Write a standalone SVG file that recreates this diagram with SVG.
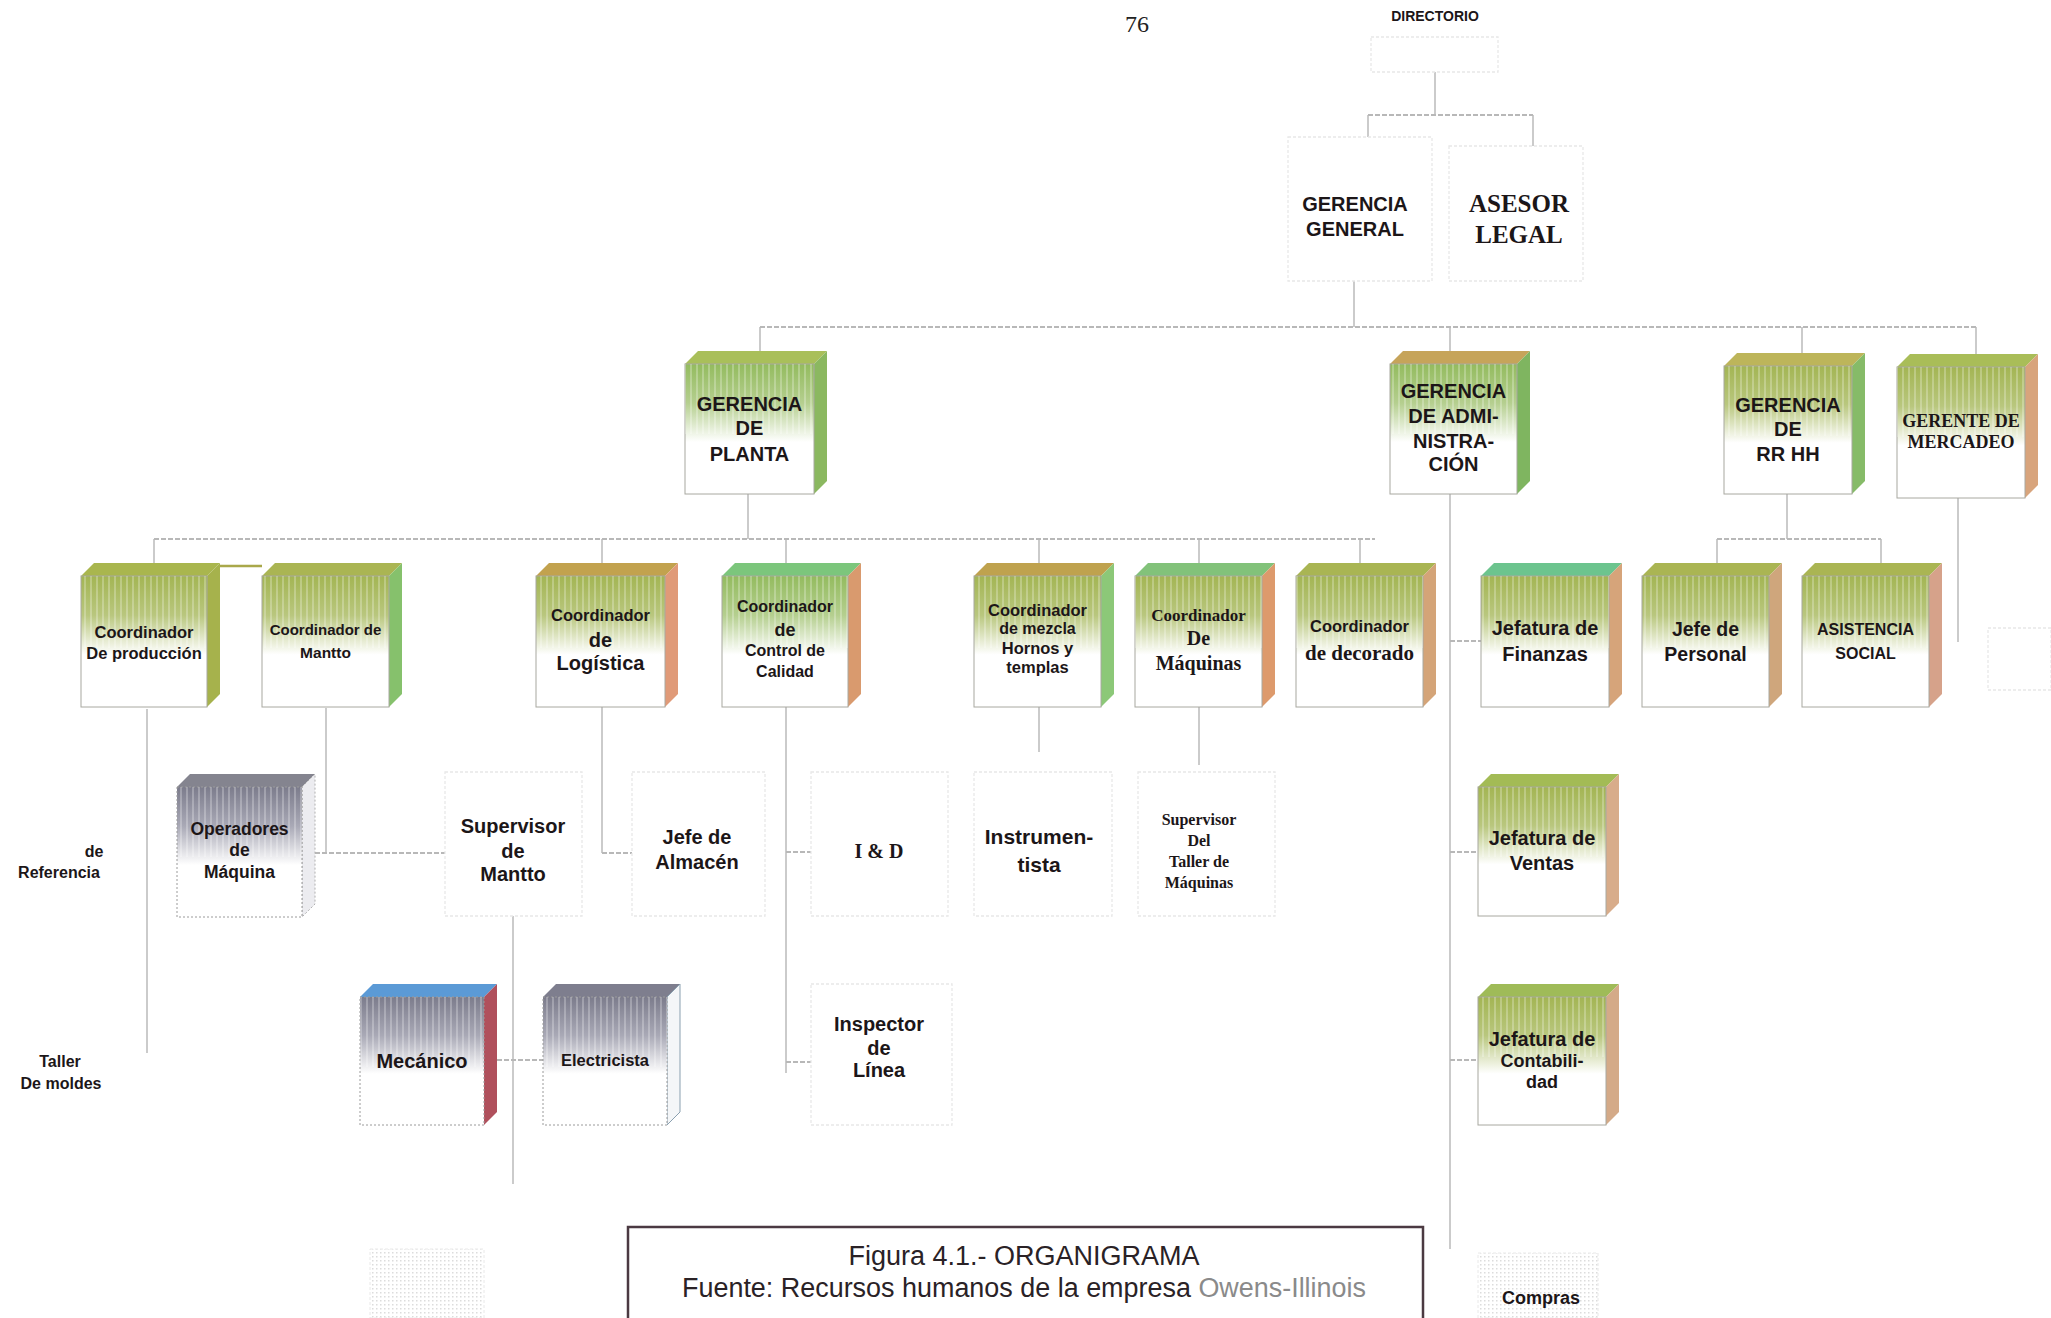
<svg xmlns="http://www.w3.org/2000/svg" width="2051" height="1318" viewBox="0 0 2051 1318">
<style>
.sb{font-family:"Liberation Sans",Arial,sans-serif;font-weight:bold;fill:#1c1618;text-anchor:middle}
.rb{font-family:"Liberation Serif","Times New Roman",serif;font-weight:bold;fill:#1c1618;text-anchor:middle}
.cap{font-family:"Liberation Sans",Arial,sans-serif;fill:#2a2226;text-anchor:middle}
.front{stroke:#a8a8a0;stroke-width:1}
.ghost{fill:none;stroke:#e8e8e8;stroke-width:1.3;stroke-dasharray:3 2}
.con{fill:none;stroke:#cbcbcb;stroke-width:2}
.conh{fill:none;stroke:#b8b8b8;stroke-width:2;stroke-dasharray:5 2}
.streak{fill:url(#streaks)}
</style>
<defs>
<pattern id="streaks" width="6" height="12" patternUnits="userSpaceOnUse"><rect x="0" y="0" width="2" height="12" fill="#ffffff" fill-opacity="0.25"/></pattern>
<pattern id="dots" width="4" height="4" patternUnits="userSpaceOnUse"><rect x="0" y="0" width="1.5" height="1.5" fill="#dcdcdc"/></pattern>
<linearGradient id="gOlive" x1="0" y1="0" x2="0" y2="1"><stop offset="0" stop-color="#a3b553"/><stop offset="0.3" stop-color="#b9c77e"/><stop offset="0.6" stop-color="#ffffff"/><stop offset="1" stop-color="#ffffff"/></linearGradient>
<linearGradient id="gGreen" x1="0" y1="0" x2="0" y2="1"><stop offset="0" stop-color="#93bb5e"/><stop offset="0.3" stop-color="#b5cf8f"/><stop offset="0.6" stop-color="#ffffff"/><stop offset="1" stop-color="#ffffff"/></linearGradient>
<linearGradient id="gGrey" x1="0" y1="0" x2="0" y2="1"><stop offset="0" stop-color="#7c7c8c"/><stop offset="0.3" stop-color="#a9a9b6"/><stop offset="0.6" stop-color="#ffffff"/><stop offset="1" stop-color="#ffffff"/></linearGradient>
</defs>
<rect width="2051" height="1318" fill="#ffffff"/>

<text x="1137" y="32" font-family="'Liberation Serif',serif" font-size="24" text-anchor="middle" fill="#222">76</text>

<g id="connectors">
<path class="con" d="M1435,72 V115 M1368,115 V137 M1533,115 V146"/>
<path class="conh" d="M1368,115 H1533"/>
<path class="con" d="M1354,281 V327 M760,327 V351 M1450,327 V351 M1802,327 V353 M1976,327 V354"/>
<path class="conh" d="M760,327 H1976"/>
<path class="con" d="M748,494 V539 M154,539 V565 M602,539 V563 M786,539 V563 M1039,539 V563 M1199,539 V563 M1360,539 V563"/>
<path class="conh" d="M154,539 H1375"/>
<path d="M220,566 H262" fill="none" stroke="#a9a84a" stroke-width="2.5"/>
<path class="con" d="M1787,494 V539 M1717,539 V563 M1881,539 V563"/>
<path class="conh" d="M1717,539 H1881"/>
<path class="con" d="M1958,498 V642"/>
<path class="con" d="M1450,494 V1249"/>
<path class="conh" d="M1450,641 H1481 M1450,852 H1478 M1450,1060 H1478"/>
<path class="con" d="M147,709 V1053"/>
<path class="con" d="M326,708 V853"/>
<path class="conh" d="M315,853 H445"/>
<path class="con" d="M602,706 V853"/>
<path class="conh" d="M602,853 H632"/>
<path class="con" d="M786,706 V1073"/>
<path class="conh" d="M786,852 H811 M786,1062 H811"/>
<path class="con" d="M1039,706 V752 M1199,706 V765"/>
<path class="con" d="M513,916 V1184"/>
<path class="conh" d="M497,1060 H543"/>
</g>

<g id="n-directorio"><rect class="ghost" x="1371" y="37" width="127" height="35"/><text class="sb" x="1435" y="21" font-size="14">DIRECTORIO</text></g>
<g id="n-gerencia-general"><rect class="ghost" x="1288" y="137" width="144" height="144"/><text class="sb" x="1355" y="211" font-size="20">GERENCIA</text><text class="sb" x="1355" y="236" font-size="20">GENERAL</text></g>
<g id="n-asesor-legal"><rect class="ghost" x="1449" y="146" width="134" height="135"/><text class="rb" x="1519" y="212" font-size="25">ASESOR</text><text class="rb" x="1519" y="243" font-size="25">LEGAL</text></g>

<g id="n-planta"><path d="M685,364 L698,351 H827 L814,364 Z" fill="#a9bf5a"/><path d="M814,364 L827,351 V481 L814,494 Z" fill="#8bb860"/><rect class="front" x="685" y="364" width="129" height="130" fill="url(#gGreen)"/><rect class="streak" x="685" y="364" width="129" height="70"/><text class="sb" x="749.5" y="411" font-size="20">GERENCIA</text><text class="sb" x="749.5" y="435" font-size="20">DE</text><text class="sb" x="749.5" y="461" font-size="20">PLANTA</text></g>
<g id="n-admin"><path d="M1390,364 L1403,351 H1530 L1517,364 Z" fill="#c6a45a"/><path d="M1517,364 L1530,351 V481 L1517,494 Z" fill="#7fb560"/><rect class="front" x="1390" y="364" width="127" height="130" fill="url(#gGreen)"/><rect class="streak" x="1390" y="364" width="127" height="70"/><text class="sb" x="1453.5" y="398" font-size="20">GERENCIA</text><text class="sb" x="1453.5" y="423" font-size="20">DE ADMI-</text><text class="sb" x="1453.5" y="448" font-size="20">NISTRA-</text><text class="sb" x="1453.5" y="471" font-size="20">CIÓN</text></g>
<g id="n-rrhh"><path d="M1724,366 L1737,353 H1865 L1852,366 Z" fill="#bdb55a"/><path d="M1852,366 L1865,353 V481 L1852,494 Z" fill="#86bb68"/><rect class="front" x="1724" y="366" width="128" height="128" fill="url(#gOlive)"/><rect class="streak" x="1724" y="366" width="128" height="70"/><text class="sb" x="1788" y="412" font-size="20">GERENCIA</text><text class="sb" x="1788" y="436" font-size="20">DE</text><text class="sb" x="1788" y="461" font-size="20">RR HH</text></g>
<g id="n-mercadeo"><path d="M1897,367 L1910,354 H2038 L2025,367 Z" fill="#a9bd58"/><path d="M2025,367 L2038,354 V485 L2025,498 Z" fill="#d8a47c"/><rect class="front" x="1897" y="367" width="128" height="131" fill="url(#gOlive)"/><rect class="streak" x="1897" y="367" width="128" height="70"/><text class="rb" x="1961" y="427" font-size="18">GERENTE DE</text><text class="rb" x="1961" y="448" font-size="18">MERCADEO</text></g>

<g id="n-coord-produccion"><path d="M81,576 L94,563 H220 L207,576 Z" fill="#a9b64e"/><path d="M207,576 L220,563 V694 L207,707 Z" fill="#a6b24c"/><rect class="front" x="81" y="576" width="126" height="131" fill="url(#gOlive)"/><rect class="streak" x="81" y="576" width="126" height="72"/><text class="sb" x="144" y="638" font-size="16.5">Coordinador</text><text class="sb" x="144" y="659" font-size="16.5">De producción</text></g>
<g id="n-coord-mantto"><path d="M262,576 L275,563 H402 L389,576 Z" fill="#aab553"/><path d="M389,576 L402,563 V694 L389,707 Z" fill="#86c16c"/><rect class="front" x="262" y="576" width="127" height="131" fill="url(#gOlive)"/><rect class="streak" x="262" y="576" width="127" height="72"/><text class="sb" x="325.5" y="635" font-size="15">Coordinador de</text><text class="sb" x="325.5" y="658" font-size="15.5">Mantto</text></g>
<g id="n-coord-logistica"><path d="M536,576 L549,563 H678 L665,576 Z" fill="#c2a24e"/><path d="M665,576 L678,563 V694 L665,707 Z" fill="#e09a78"/><rect class="front" x="536" y="576" width="129" height="131" fill="url(#gOlive)"/><rect class="streak" x="536" y="576" width="129" height="72"/><text class="sb" x="600.5" y="621" font-size="16.5">Coordinador</text><text class="sb" x="600.5" y="647" font-size="20">de</text><text class="sb" x="600.5" y="670" font-size="20">Logística</text></g>
<g id="n-coord-calidad"><path d="M722,576 L735,563 H861 L848,576 Z" fill="#7cc67c"/><path d="M848,576 L861,563 V694 L848,707 Z" fill="#d99a6e"/><rect class="front" x="722" y="576" width="126" height="131" fill="url(#gGreen)"/><rect class="streak" x="722" y="576" width="126" height="72"/><text class="sb" x="785" y="612" font-size="16">Coordinador</text><text class="sb" x="785" y="636" font-size="18">de</text><text class="sb" x="785" y="656" font-size="16">Control de</text><text class="sb" x="785" y="677" font-size="16">Calidad</text></g>
<g id="n-coord-mezcla"><path d="M974,576 L987,563 H1114 L1101,576 Z" fill="#bfa24e"/><path d="M1101,576 L1114,563 V694 L1101,707 Z" fill="#8cc878"/><rect class="front" x="974" y="576" width="127" height="131" fill="url(#gOlive)"/><rect class="streak" x="974" y="576" width="127" height="72"/><text class="sb" x="1037.5" y="616" font-size="16.5">Coordinador</text><text class="sb" x="1037.5" y="634" font-size="16">de  mezcla</text><text class="sb" x="1037.5" y="654" font-size="16.5">Hornos y</text><text class="sb" x="1037.5" y="673" font-size="16.5">templas</text></g>
<g id="n-coord-maquinas"><path d="M1135,576 L1148,563 H1275 L1262,576 Z" fill="#82c27a"/><path d="M1262,576 L1275,563 V694 L1262,707 Z" fill="#dd9a6c"/><rect class="front" x="1135" y="576" width="127" height="131" fill="url(#gOlive)"/><rect class="streak" x="1135" y="576" width="127" height="72"/><text class="rb" x="1198.5" y="621" font-size="17">Coordinador</text><text class="rb" x="1198.5" y="645" font-size="20">De</text><text class="rb" x="1198.5" y="670" font-size="20">Máquinas</text></g>
<g id="n-coord-decorado"><path d="M1296,576 L1309,563 H1436 L1423,576 Z" fill="#a9b553"/><path d="M1423,576 L1436,563 V694 L1423,707 Z" fill="#d4a478"/><rect class="front" x="1296" y="576" width="127" height="131" fill="url(#gOlive)"/><rect class="streak" x="1296" y="576" width="127" height="72"/><text class="sb" x="1359.5" y="632" font-size="16.5">Coordinador</text><text class="rb" x="1359.5" y="660" font-size="21">de decorado</text></g>
<g id="n-finanzas"><path d="M1481,576 L1494,563 H1622 L1609,576 Z" fill="#6cc48e"/><path d="M1609,576 L1622,563 V694 L1609,707 Z" fill="#d6a47a"/><rect class="front" x="1481" y="576" width="128" height="131" fill="url(#gOlive)"/><rect class="streak" x="1481" y="576" width="128" height="72"/><text class="sb" x="1545" y="635" font-size="20">Jefatura de</text><text class="sb" x="1545" y="661" font-size="20">Finanzas</text></g>
<g id="n-personal"><path d="M1642,576 L1655,563 H1782 L1769,576 Z" fill="#aab553"/><path d="M1769,576 L1782,563 V694 L1769,707 Z" fill="#cfa67c"/><rect class="front" x="1642" y="576" width="127" height="131" fill="url(#gOlive)"/><rect class="streak" x="1642" y="576" width="127" height="72"/><text class="sb" x="1705.5" y="636" font-size="19.5">Jefe de</text><text class="sb" x="1705.5" y="661" font-size="19.5">Personal</text></g>
<g id="n-asistencia"><path d="M1802,576 L1815,563 H1942 L1929,576 Z" fill="#aab553"/><path d="M1929,576 L1942,563 V694 L1929,707 Z" fill="#d6a28a"/><rect class="front" x="1802" y="576" width="127" height="131" fill="url(#gOlive)"/><rect class="streak" x="1802" y="576" width="127" height="72"/><text class="sb" x="1865.5" y="635" font-size="16">ASISTENCIA</text><text class="sb" x="1865.5" y="659" font-size="16">SOCIAL</text></g>

<g id="n-operadores"><path d="M177,787 L190,774 H315 L302,787 Z" fill="#84848f"/><path d="M302,787 L315,774 V904 L302,917 Z" fill="#ececf0" stroke="#b0b0b0" stroke-dasharray="2 2"/><rect x="177" y="787" width="125" height="130" fill="url(#gGrey)" stroke="#9a9a9a" stroke-dasharray="2 2"/><rect class="streak" x="177" y="787" width="125" height="70"/><text class="sb" x="239.5" y="835" font-size="17.5">Operadores</text><text class="sb" x="239.5" y="856" font-size="17.5">de</text><text class="sb" x="239.5" y="878" font-size="17.5">Máquina</text></g>
<g id="n-sup-mantto"><rect class="ghost" x="445" y="772" width="137" height="144"/><text class="sb" x="513" y="833" font-size="20">Supervisor</text><text class="sb" x="513" y="858" font-size="20">de</text><text class="sb" x="513" y="881" font-size="20">Mantto</text></g>
<g id="n-almacen"><rect class="ghost" x="632" y="772" width="133" height="144"/><text class="sb" x="697" y="844" font-size="20">Jefe de</text><text class="sb" x="697" y="869" font-size="20">Almacén</text></g>
<g id="n-id"><rect class="ghost" x="811" y="772" width="137" height="144"/><text class="rb" x="879" y="858" font-size="20">I &amp; D</text></g>
<g id="n-instrumentista"><rect class="ghost" x="974" y="772" width="138" height="144"/><text class="sb" x="1039" y="844" font-size="21">Instrumen-</text><text class="sb" x="1039" y="872" font-size="21">tista</text></g>
<g id="n-sup-taller"><rect class="ghost" x="1138" y="772" width="137" height="144"/><text class="rb" x="1199" y="825" font-size="16">Supervisor</text><text class="rb" x="1199" y="846" font-size="16">Del</text><text class="rb" x="1199" y="867" font-size="16">Taller de</text><text class="rb" x="1199" y="888" font-size="16">Máquinas</text></g>
<g id="n-ventas"><path d="M1478,787 L1491,774 H1619 L1606,787 Z" fill="#a3bb55"/><path d="M1606,787 L1619,774 V903 L1606,916 Z" fill="#d8ac8a"/><rect class="front" x="1478" y="787" width="128" height="129" fill="url(#gOlive)"/><rect class="streak" x="1478" y="787" width="128" height="70"/><text class="sb" x="1542" y="845" font-size="20">Jefatura de</text><text class="sb" x="1542" y="870" font-size="20">Ventas</text></g>

<g id="n-mecanico"><path d="M360,997 L373,984 H497 L484,997 Z" fill="#5b9ad6"/><path d="M484,997 L497,984 V1112 L484,1125 Z" fill="#b0505c"/><rect x="360" y="997" width="124" height="128" fill="url(#gGrey)" stroke="#9a9a9a" stroke-dasharray="2 2"/><rect class="streak" x="360" y="997" width="124" height="70"/><text class="sb" x="422" y="1068" font-size="20">Mecánico</text></g>
<g id="n-electricista"><path d="M543,997 L556,984 H680 L667,997 Z" fill="#7e7e8e"/><path d="M667,997 L680,984 V1112 L667,1125 Z" fill="#f4f6f8" stroke="#8aa0b0" stroke-width="1"/><rect x="543" y="997" width="124" height="128" fill="url(#gGrey)" stroke="#9a9a9a" stroke-dasharray="2 2"/><rect class="streak" x="543" y="997" width="124" height="70"/><text class="sb" x="605" y="1066" font-size="16.5">Electricista</text></g>
<g id="n-inspector"><rect class="ghost" x="811" y="984" width="141" height="141"/><text class="sb" x="879" y="1031" font-size="20">Inspector</text><text class="sb" x="879" y="1055" font-size="20">de</text><text class="sb" x="879" y="1077" font-size="20">Línea</text></g>
<g id="n-contabilidad"><path d="M1478,997 L1491,984 H1619 L1606,997 Z" fill="#9fbb58"/><path d="M1606,997 L1619,984 V1112 L1606,1125 Z" fill="#d4aa88"/><rect class="front" x="1478" y="997" width="128" height="128" fill="url(#gOlive)"/><rect class="streak" x="1478" y="997" width="128" height="60"/><text class="sb" x="1542" y="1046" font-size="20">Jefatura de</text><text class="sb" x="1542" y="1067" font-size="18">Contabili-</text><text class="sb" x="1542" y="1088" font-size="18">dad</text></g>
<g id="n-compras"><rect x="1478" y="1253" width="120" height="65" fill="url(#dots)" stroke="#e8e8e8" stroke-dasharray="3 2"/><text class="sb" x="1541" y="1304" font-size="18">Compras</text></g>

<g id="n-referencia"><text class="sb" x="94" y="857" font-size="16">de</text><text class="sb" x="59" y="878" font-size="16">Referencia</text></g>
<g id="n-taller-moldes"><text class="sb" x="60" y="1067" font-size="16">Taller</text><text class="sb" x="61" y="1089" font-size="16">De moldes</text></g>
<g id="n-ghost-bottom-left"><rect x="370" y="1249" width="114" height="69" fill="url(#dots)" stroke="#e8e8e8" stroke-dasharray="3 2"/></g>
<g id="n-ghost-right"><rect class="ghost" x="1988" y="628" width="63" height="62"/></g>

<g id="caption"><rect x="628" y="1227" width="795" height="120" fill="#ffffff" stroke="#4b3a42" stroke-width="2.5"/><text class="cap" x="1024" y="1265" font-size="27" textLength="351" lengthAdjust="spacingAndGlyphs">Figura 4.1.- ORGANIGRAMA</text><text class="cap" x="1024" y="1297" font-size="27" textLength="684" lengthAdjust="spacingAndGlyphs">Fuente: Recursos humanos de la empresa <tspan fill="#8a8a8a">Owens-Illinois</tspan></text></g>
</svg>
